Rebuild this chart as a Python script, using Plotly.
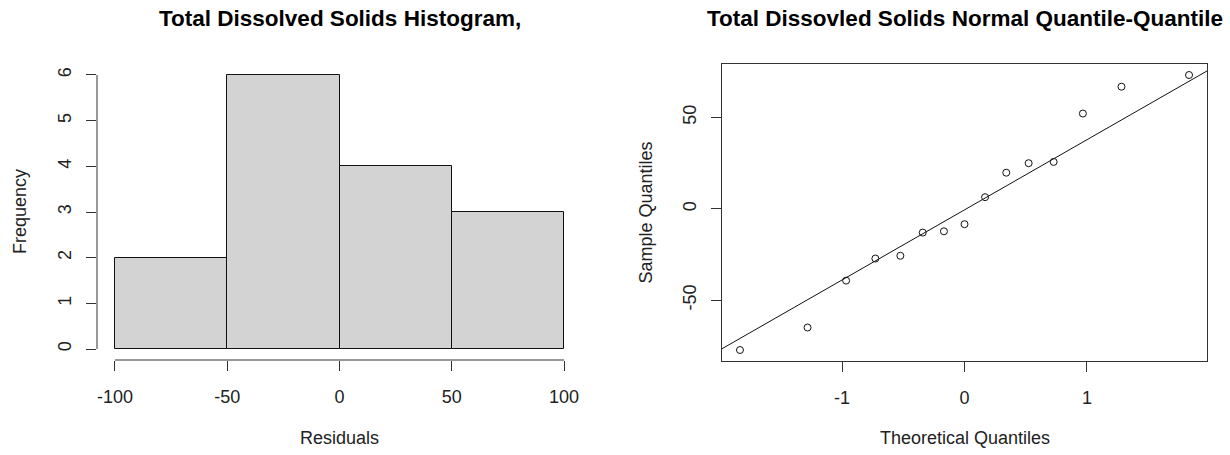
import numpy as np
import plotly.graph_objects as go

# ---------------- data ----------------
bin_edges = [-100, -50, 0, 50, 100]
hist_counts = [2, 6, 4, 3]
hist_xticks = [-100, -50, 0, 50, 100]
hist_xticktext = ["-100", "-50", "0", "50", "100"]
hist_yticks = [0, 1, 2, 3, 4, 5, 6]
hist_yticktext = ["0", "1", "2", "3", "4", "5", "6"]

theoretical_q = [-1.834, -1.282, -0.967, -0.728, -0.524, -0.341, -0.168, 0.0,
                 0.168, 0.341, 0.524, 0.728, 0.967, 1.282, 1.834]
sample_q = [-77.3, -65.0, -39.3, -27.2, -25.7, -13.0, -12.3, -8.4,
            6.4, 19.8, 25.0, 25.7, 52.2, 66.9, 73.3]
qq_xticks = [-1, 0, 1]
qq_xticktext = ["-1", "0", "1"]
qq_yticks = [-50, 0, 50]
qq_yticktext = ["-50", "0", "50"]

title_left = "Total Dissolved Solids Histogram,"
title_right = "Total Dissovled Solids Normal Quantile-Quantile"
xlab_left, ylab_left = "Residuals", "Frequency"
xlab_right, ylab_right = "Theoretical Quantiles", "Sample Quantiles"

# ---------------- layout helpers ----------------
W, H = 1230, 455
FONT = "Liberation Sans, Arial, sans-serif"
INK = "#222222"
AX = "#333333"


def px(x):
    return x / W


def py(y):
    return 1 - y / H


def ext(lo, hi, f=0.04):
    d = (hi - lo) * f
    return [lo - d, hi + d]


# plot regions in window pixels (left, top, right, bottom)
L_REG = (97, 64, 582, 360)
R_REG = (722, 64, 1207, 361)

fig = go.Figure()

# histogram bars
centers = [(bin_edges[i] + bin_edges[i + 1]) / 2 for i in range(len(hist_counts))]
widths = [bin_edges[i + 1] - bin_edges[i] for i in range(len(hist_counts))]
fig.add_trace(go.Bar(
    x=centers, y=hist_counts, width=widths,
    marker=dict(color="#D3D3D3", line=dict(color="#111111", width=1)),
    xaxis="x", yaxis="y", showlegend=False, hoverinfo="x+y"))

# QQ points
fig.add_trace(go.Scatter(
    x=theoretical_q, y=sample_q, mode="markers",
    marker=dict(symbol="circle-open", size=7, color="#111111", line=dict(width=1)),
    xaxis="x2", yaxis="y2", showlegend=False))

# QQ line through quartiles
sq = np.array(sample_q)
q1, q3 = np.quantile(sq, [0.25, 0.75])
z = 0.6744897501960817
slope = (q3 - q1) / (2 * z)
intercept = q1 + z * slope
xr = ext(min(theoretical_q), max(theoretical_q))
yr = ext(min(sample_q), max(sample_q))
lx = np.array(xr)
fig.add_trace(go.Scatter(
    x=lx, y=intercept + slope * lx, mode="lines",
    line=dict(color="#111111", width=1),
    xaxis="x2", yaxis="y2", showlegend=False, hoverinfo="skip"))

tickfont = dict(family=FONT, size=18, color=INK)
common = dict(showgrid=False, zeroline=False, ticks="outside", ticklen=10,
              tickwidth=1, tickcolor=AX, tickfont=tickfont)

fig.update_layout(
    width=W, height=H,
    margin=dict(l=0, r=0, t=0, b=0),
    paper_bgcolor="white", plot_bgcolor="white",
    xaxis=dict(domain=[px(L_REG[0]), px(L_REG[2])], range=ext(-100, 100),
               tickvals=hist_xticks, ticktext=hist_xticktext, anchor="y",
               showline=False, ticklabelstandoff=10, **common),
    yaxis=dict(domain=[py(L_REG[3]), py(L_REG[1])], range=ext(0, 6),
               tickvals=hist_yticks, ticktext=hist_yticktext, anchor="x",
               showline=False, tickangle=-90, ticklabelstandoff=8, **common),
    xaxis2=dict(domain=[px(R_REG[0]), px(R_REG[2])], range=xr,
                tickvals=qq_xticks, ticktext=qq_xticktext, anchor="y2",
                showline=True, mirror=True, linecolor=AX, linewidth=1,
                ticklabelstandoff=10, **common),
    yaxis2=dict(domain=[py(R_REG[3]), py(R_REG[1])], range=yr,
                tickvals=qq_yticks, ticktext=qq_yticktext, anchor="x2",
                showline=True, mirror=True, linecolor=AX, linewidth=1,
                tickangle=-90, ticklabelstandoff=8, **common),
    bargap=0,
)

# R-style axis lines for the histogram
fig.add_shape(type="line", xref="x", yref="y domain", x0=-100, x1=100, y0=0, y1=0,
              line=dict(color=AX, width=1))
fig.add_shape(type="line", xref="x domain", yref="y", x0=0, x1=0, y0=0, y1=6,
              line=dict(color=AX, width=1))

ann = []
lab = dict(family=FONT, size=18, color=INK)
tit = dict(family=FONT, size=22.5, color="#000000")
lc = (L_REG[0] + L_REG[2]) / 2
rc = (R_REG[0] + R_REG[2]) / 2
lm = (L_REG[1] + L_REG[3]) / 2
rm = (R_REG[1] + R_REG[3]) / 2
ann.append(dict(text="<b>%s</b>" % title_left, x=px(lc), y=py(19), font=tit))
ann.append(dict(text="<b>%s</b>" % title_right, x=px(rc), y=py(19), font=tit))
ann.append(dict(text=xlab_left, x=px(lc), y=py(438), font=lab))
ann.append(dict(text=xlab_right, x=px(rc), y=py(438), font=lab))
ann.append(dict(text=ylab_left, x=px(20), y=py(lm), font=lab, textangle=-90))
ann.append(dict(text=ylab_right, x=px(645), y=py(rm), font=lab, textangle=-90))
for a in ann:
    a.update(xref="paper", yref="paper", showarrow=False, xanchor="center", yanchor="middle")
fig.update_layout(annotations=ann)

fig.write_html("out.html", config={"displayModeBar": False},
               post_script="document.body.style.margin='0';")
